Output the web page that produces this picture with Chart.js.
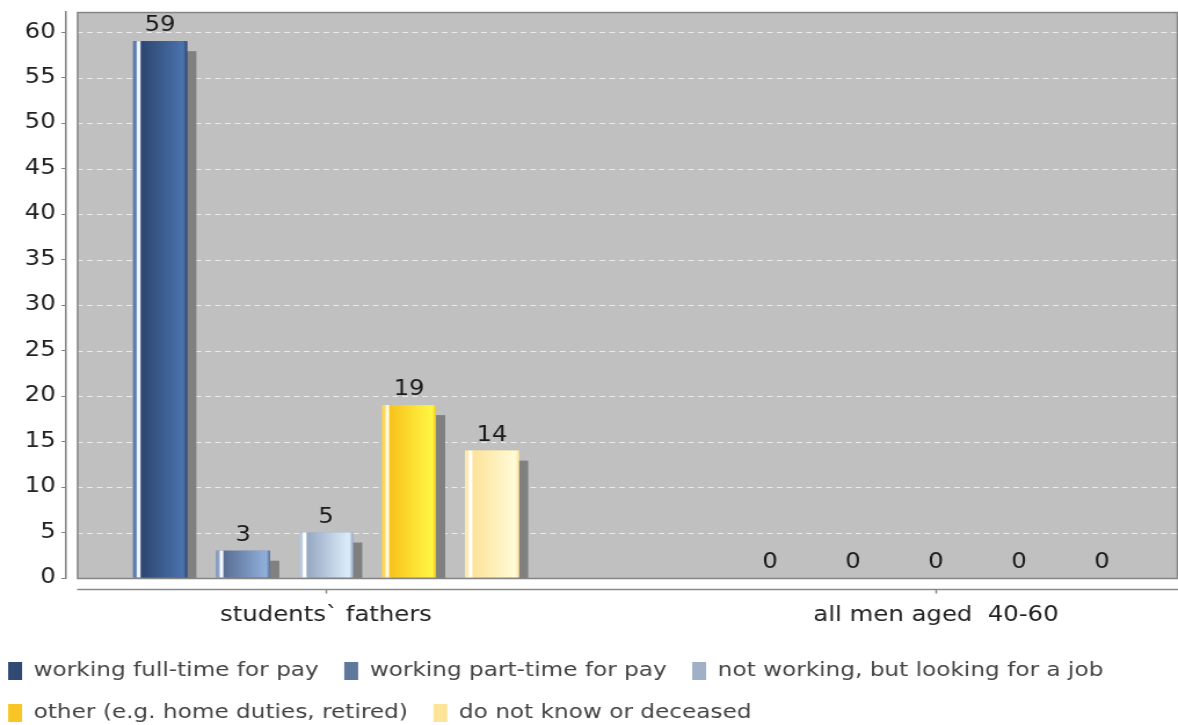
<!DOCTYPE html>
<html>
<head>
<meta charset="utf-8">
<script src="https://cdn.jsdelivr.net/npm/chart.js@4.4.1/dist/chart.umd.min.js"></script>
<style>
    html, body { margin: 0; padding: 0; background: #fff; overflow: hidden; width: 1178px; height: 725px; }
    /* the reference picture is stretched sideways, so the chart is drawn narrower and scaled */
    #wrap { width: 1016px; height: 733px; transform: scaleX(1.1594); transform-origin: 0 0; position: relative; }
</style>
</head>
<body>
<div id="wrap"><canvas id="chart"></canvas></div>
<script>
// Data
const groups = ['students` fathers', 'all men aged  40-60'];
const seriesNames = [
    'working full-time for pay',
    'working part-time for pay',
    'not working, but looking for a job',
    'other (e.g. home duties, retired)',
    'do not know or deceased'
];
const fullTime = [59, 0];
const partTime = [3, 0];
const notWorking = [5, 0];
const otherStatus = [19, 0];
const unknownStatus = [14, 0];
const yTicks = [0, 5, 10, 15, 20, 25, 30, 35, 40, 45, 50, 55, 60];

const seriesValues = [fullTime, partTime, notWorking, otherStatus, unknownStatus];

// Colors
const legendColors = ['#2f4b74', '#61789d', '#9fb0c7', '#f9c526', '#fde498'];
// rim, highlight, dark side, light side
const faces = [
    ['#5a7bb0', '#f4f8ff', '#2c4670', '#4b73ad'],
    ['#8aa1c6', '#f4f8ff', '#5a6f94', '#90b0dc'],
    ['#b9c7db', '#ffffff', '#97a9c2', '#dcedfc'],
    ['#fbd65a', '#fffbe0', '#f8c31c', '#fff743'],
    ['#fde9ac', '#ffffff', '#fde39a', '#fffbd8']
];
const family = "'DejaVu Sans', sans-serif";
const legendFont = { family: family, size: 20 };
const tickFont = { family: family, size: 21 };
const plotGap = 9.5;
const shadowDx = 8, shadowDy = 10;

const plotFrame = {
    id: 'plotFrame',
    beforeDatasetsDraw(chart) {
        const { ctx, chartArea: a, scales: { y } } = chart;
        const left = a.left + plotGap;
        ctx.save();
        ctx.fillStyle = '#c0c0c0';
        ctx.fillRect(left, a.top, a.right - left, a.bottom - a.top);

        // dashed grid
        ctx.strokeStyle = 'rgba(240,240,240,0.9)';
        ctx.lineWidth = 1;
        ctx.setLineDash([5, 3.5]);
        yTicks.forEach(v => {
            if (v === 0) return;
            const py = Math.round(y.getPixelForValue(v)) + 0.5;
            ctx.beginPath();
            ctx.moveTo(left, py);
            ctx.lineTo(a.right, py);
            ctx.stroke();
        });
        ctx.setLineDash([]);

        // shadows
        ctx.beginPath();
        ctx.rect(left, a.top, a.right - left, a.bottom - a.top);
        ctx.clip();
        ctx.fillStyle = '#808080';
        chart.data.datasets.forEach((ds, i) => {
            chart.getDatasetMeta(i).data.forEach(bar => {
                const h = bar.base - bar.y;
                if (h <= 0) return;
                ctx.fillRect(bar.x - bar.width / 2 + shadowDx, bar.y + shadowDy, bar.width, h);
            });
        });
        ctx.restore();
    },
    afterDatasetsDraw(chart) {
        const { ctx, chartArea: a, scales: { x } } = chart;
        const left = a.left + plotGap;
        ctx.save();

        // shaded bar faces
        chart.data.datasets.forEach((ds, i) => {
            const f = faces[i];
            chart.getDatasetMeta(i).data.forEach(bar => {
                const h = bar.base - bar.y;
                if (h <= 0) return;
                const x0 = bar.x - bar.width / 2, x1 = bar.x + bar.width / 2;
                const g = ctx.createLinearGradient(x0, 0, x1, 0);
                g.addColorStop(0, f[0]);
                g.addColorStop(0.05, f[0]);
                g.addColorStop(0.08, f[1]);
                g.addColorStop(0.12, f[1]);
                g.addColorStop(0.15, f[2]);
                g.addColorStop(0.93, f[3]);
                g.addColorStop(1, f[2]);
                ctx.fillStyle = g;
                ctx.fillRect(x0, bar.y, bar.width, h);
            });
        });

        // value labels
        ctx.fillStyle = '#1a1a1a';
        ctx.font = `${tickFont.size}px ${tickFont.family}`;
        ctx.textAlign = 'center';
        ctx.textBaseline = 'alphabetic';
        chart.data.datasets.forEach((ds, i) => {
            chart.getDatasetMeta(i).data.forEach((bar, j) => {
                ctx.fillText(String(seriesValues[i][j]), bar.x, bar.y - 10);
            });
        });

        // plot border
        ctx.strokeStyle = '#858585';
        ctx.lineWidth = 1.5;
        ctx.strokeRect(left + 0.5, a.top + 0.5, a.right - left - 1, a.bottom - a.top);

        // category axis below the plot
        const axisY = a.bottom + 11.5;
        ctx.strokeStyle = '#8a8a8a';
        ctx.lineWidth = 1.5;
        ctx.beginPath();
        ctx.moveTo(left, axisY);
        ctx.lineTo(a.right, axisY);
        groups.forEach((g, i) => {
            const px = Math.round(x.getPixelForValue(i)) + 0.5;
            ctx.moveTo(px, axisY);
            ctx.lineTo(px, axisY + 4);
        });
        ctx.stroke();
        ctx.restore();
    }
};

document.addEventListener('DOMContentLoaded', () => {
    const ctx = document.getElementById('chart');
    new Chart(ctx, {
        type: 'bar',
        data: {
            datasets: seriesNames.map((name, i) => ({
                label: name,
                data: seriesValues[i].map((v, j) => ({ x: j, y: v })),
                backgroundColor: legendColors[i],
                borderWidth: 0,
                categoryPercentage: 0.68,
                barPercentage: 0.65
            }))
        },
        options: {
            responsive: true,
            maintainAspectRatio: false,
            animation: false,
            layout: { padding: { top: 12, left: -15, right: 0, bottom: 0 } },
            plugins: {
                legend: {
                    position: 'bottom',
                    align: 'start',
                    labels: {
                        boxWidth: 12,
                        boxHeight: 18,
                        padding: 22,
                        color: '#444',
                        font: legendFont
                    }
                },
                tooltip: { enabled: false }
            },
            scales: {
                x: {
                    type: 'linear',
                    min: -0.4262,
                    max: 1.3967,
                    offset: false,
                    grid: { display: false },
                    border: { display: false },
                    afterBuildTicks: s => { s.ticks = groups.map((g, i) => ({ value: i })); },
                    afterFit: s => { s.height = 61; },
                    ticks: {
                        callback: v => groups[v],
                        color: '#222',
                        font: tickFont,
                        padding: 17,
                        maxRotation: 0,
                        autoSkip: false
                    }
                },
                y: {
                    min: 0,
                    max: 62.2,
                    afterBuildTicks: s => { s.ticks = yTicks.map(v => ({ value: v })); },
                    afterFit: s => { s.width = 72; },
                    grid: { drawOnChartArea: false, tickLength: 4, color: '#808080' },
                    border: { color: '#808080', width: 1.5 },
                    ticks: { color: '#222', font: { family: family, size: 21, lineHeight: 0.67 }, padding: 5 }
                }
            }
        },
        plugins: [plotFrame]
    });
});
</script>
</body>
</html>
